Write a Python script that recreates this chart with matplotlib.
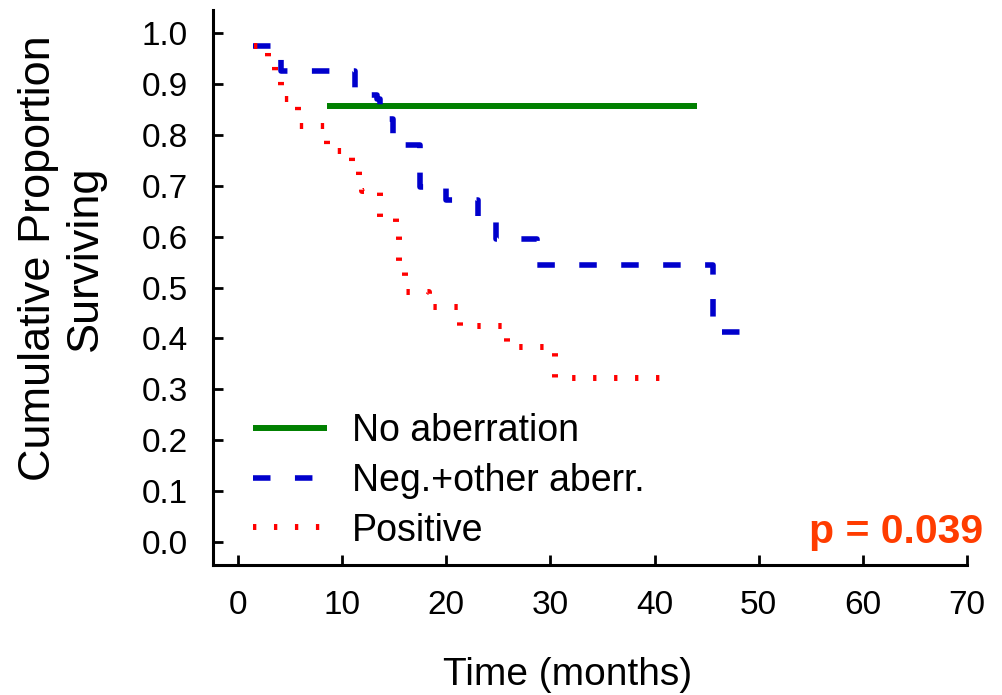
import matplotlib
matplotlib.use("Agg")
import matplotlib.pyplot as plt

plt.rcParams["font.family"] = ["Liberation Sans", "DejaVu Sans"]
plt.rcParams["lines.scale_dashes"] = False

# survival curves (months, cumulative proportion surviving)
no_aberr_t = [8.5, 44.1]
no_aberr_s = [0.857, 0.857]

neg_t = [1.4, 4.1, 11.2, 13.3, 13.6, 14.9, 17.5, 20.0, 23.0, 24.8, 28.7, 45.6, 48.8]
neg_s = [0.975, 0.926, 0.879, 0.870, 0.832, 0.780, 0.698, 0.672, 0.636, 0.595, 0.545, 0.412, 0.412]

pos_t = [1.5, 2.9, 3.6, 4.1, 5.8, 8.5, 10.9, 11.6, 11.9, 13.6, 15.2, 15.5, 16.0,
         18.3, 21.3, 25.8, 30.4, 41.3]
pos_s = [0.975, 0.945, 0.920, 0.871, 0.818, 0.769, 0.745, 0.715, 0.690, 0.637, 0.610,
         0.550, 0.491, 0.461, 0.425, 0.382, 0.322, 0.322]

labels = ["No aberration", "Neg.+other aberr.", "Positive"]
x_ticks = [0, 10, 20, 30, 40, 50, 60, 70]
y_ticks = [0.0, 0.1, 0.2, 0.3, 0.4, 0.5, 0.6, 0.7, 0.8, 0.9, 1.0]
p_text = "p = 0.039"

fig = plt.figure(figsize=(10.02, 6.95), dpi=100)
ax = fig.add_axes([213 / 1002, 1 - 565 / 695, 754 / 1002, 555 / 695])

ax.step(no_aberr_t, no_aberr_s, where="post", color="#008000", lw=4.3,
        solid_capstyle="butt", label=labels[0])
ax.step(neg_t, neg_s, where="post", color="#0000cc", lw=4.0,
        linestyle=(0, (12.6, 17.6)), label=labels[1])
ax.step(pos_t, pos_s, where="post", color="#ff0000", lw=4.3,
        linestyle=(0, (2.4, 12.7)), label=labels[2])

ax.set_xlim(-2.4, 70)
ax.set_ylim(-0.046, 1.046)
ax.set_xticks(x_ticks)
ax.set_yticks(y_ticks)
ax.set_yticklabels([f"{v:.1f}" for v in y_ticks])
ax.tick_params(direction="in", length=7, width=2.0, labelsize=24, pad=18)
for side in ["top", "right"]:
    ax.spines[side].set_visible(False)
for side in ["left", "bottom"]:
    ax.spines[side].set_linewidth(2.2)

ax.legend(loc="center left", bbox_to_anchor=(0.053, 0.152), frameon=False,
          fontsize=27, handlelength=1.97, handletextpad=0.67, labelspacing=0.37,
          borderpad=0, borderaxespad=0)

ax.text(1.021, 0.0396, p_text, transform=ax.transAxes, ha="right", va="baseline",
        fontsize=29.5, fontweight="bold", color="#ff3c00", clip_on=False)

fig.text(62 / 1002, 1 - 258 / 695, "Cumulative Proportion\nSurviving", rotation=90,
         ha="center", va="center", multialignment="center", fontsize=32.5,
         linespacing=1.17)
fig.text(568 / 1002, 1 - 675 / 695, "Time (months)", ha="center", va="center",
         fontsize=28)

fig.savefig("out.png", dpi=100)
